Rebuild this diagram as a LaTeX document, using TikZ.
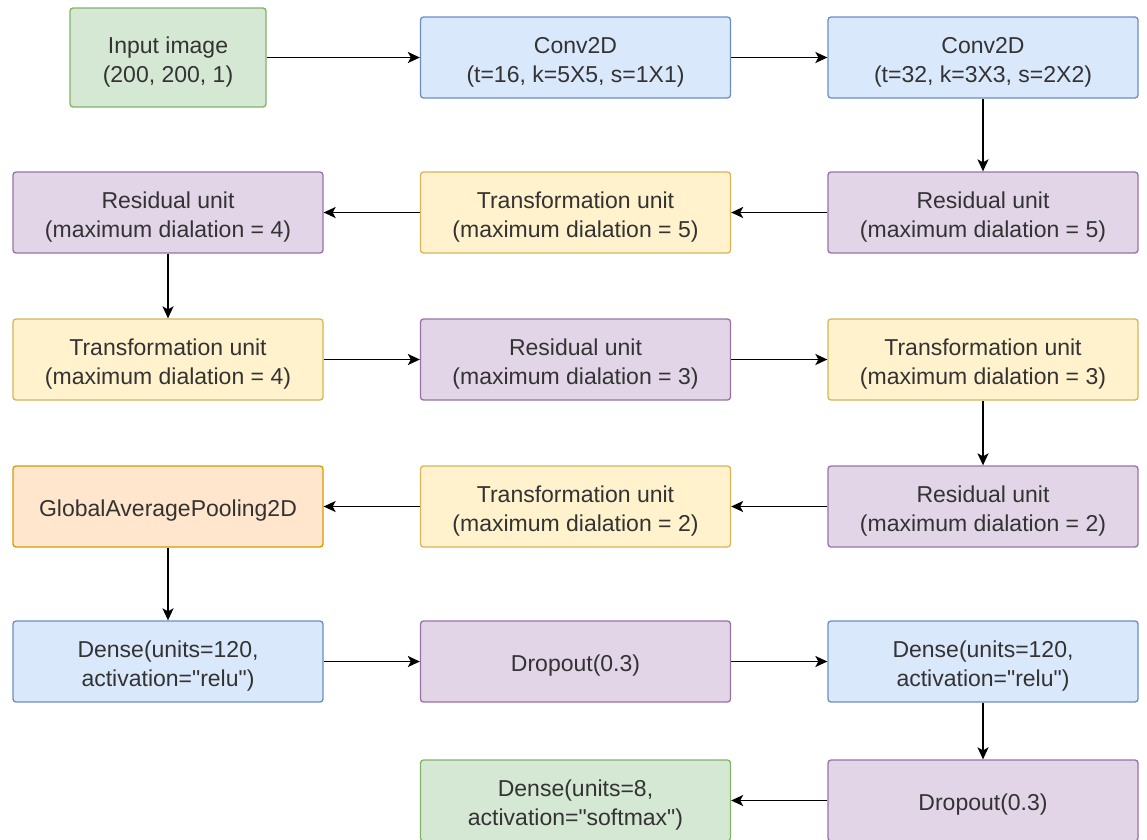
\documentclass[tikz,border=0pt]{standalone}
\usepackage{fontspec}
\setmainfont{Liberation Sans}
\usetikzlibrary{arrows.meta}

\definecolor{gfill}{HTML}{D5E8D4}\definecolor{gline}{HTML}{82B366}
\definecolor{bfill}{HTML}{DAE8FC}\definecolor{bline}{HTML}{6C8EBF}
\definecolor{pfill}{HTML}{E1D5E7}\definecolor{pline}{HTML}{9673A6}
\definecolor{yfill}{HTML}{FFF2CC}\definecolor{yline}{HTML}{D6B656}
\definecolor{ofill}{HTML}{FFE6CC}\definecolor{oline}{HTML}{D79B00}
\definecolor{txt}{HTML}{333333}

\tikzset{
  layer/.style={rectangle, rounded corners=3pt, line width=1.3pt,
    minimum width=310pt, minimum height=81pt, inner sep=0pt,
    align=center, text=txt, font=\fontsize{23}{28.5}\selectfont,
    execute at begin node={\rule{0pt}{25pt}}},
  % two-line labels sit a little lower in their boxes
  tall/.style={execute at begin node={\rule{0pt}{54pt}}},
  green/.style={layer, fill=gfill, draw=gline},
  blue/.style={layer, fill=bfill, draw=bline},
  purple/.style={layer, fill=pfill, draw=pline},
  yellow/.style={layer, fill=yfill, draw=yline},
  orange/.style={layer, fill=ofill, draw=oline},
  flow/.style={line width=1.8pt, -{Stealth[length=12pt,width=11pt,inset=3pt]}}
}

\begin{document}
\begin{tikzpicture}[x=1pt,y=-1pt]
\clip (0,0) rectangle (1147,839);
\fill[white] (0,0) rectangle (1147,839);

% row 1
\node[green, tall, minimum width=196pt, minimum height=99pt] (in) at (168,57.5) {Input image\\(200, 200, 1)};
\node[blue, tall] (c1) at (575.5,57.5) {Conv2D\\(t=16, k=5X5, s=1X1)};
\node[blue, tall] (c2) at (983,57.5) {Conv2D\\(t=32, k=3X3, s=2X2)};
% row 2
\node[purple, tall] (r5) at (983,212.5) {Residual unit\\(maximum dialation = 5)};
\node[yellow, tall] (t5) at (575.5,212.5) {Transformation unit\\(maximum dialation = 5)};
\node[purple, tall] (r4) at (168,212.5) {Residual unit\\(maximum dialation = 4)};
% row 3
\node[yellow, tall] (t4) at (168,359.5) {Transformation unit\\(maximum dialation = 4)};
\node[purple, tall] (r3) at (575.5,359.5) {Residual unit\\(maximum dialation = 3)};
\node[yellow, tall] (t3) at (983,359.5) {Transformation unit\\(maximum dialation = 3)};
% row 4
\node[purple, tall] (r2) at (983,506.5) {Residual unit\\(maximum dialation = 2)};
\node[yellow, tall] (t2) at (575.5,506.5) {Transformation unit\\(maximum dialation = 2)};
\node[orange] (gap) at (168,506.5) {GlobalAveragePooling2D};
% row 5
\node[blue, tall] (d1) at (168,661.5) {Dense(units=120,\\activation=\textquotedbl relu\textquotedbl)};
\node[purple] (p1) at (575.5,661.5) {Dropout(0.3)};
\node[blue, tall] (d2) at (983,661.5) {Dense(units=120,\\activation=\textquotedbl relu\textquotedbl)};
% row 6
\node[purple] (p2) at (983,800.5) {Dropout(0.3)};
\node[green, tall] (out) at (575.5,800.5) {Dense(units=8,\\activation=\textquotedbl softmax\textquotedbl)};

% connectors
\draw[flow] (in) -- (c1);
\draw[flow] (c1) -- (c2);
\draw[flow] (c2) -- (r5);
\draw[flow] (r5) -- (t5);
\draw[flow] (t5) -- (r4);
\draw[flow] (r4) -- (t4);
\draw[flow] (t4) -- (r3);
\draw[flow] (r3) -- (t3);
\draw[flow] (t3) -- (r2);
\draw[flow] (r2) -- (t2);
\draw[flow] (t2) -- (gap);
\draw[flow] (gap) -- (d1);
\draw[flow] (d1) -- (p1);
\draw[flow] (p1) -- (d2);
\draw[flow] (d2) -- (p2);
\draw[flow] (p2) -- (out);
\end{tikzpicture}
\end{document}
